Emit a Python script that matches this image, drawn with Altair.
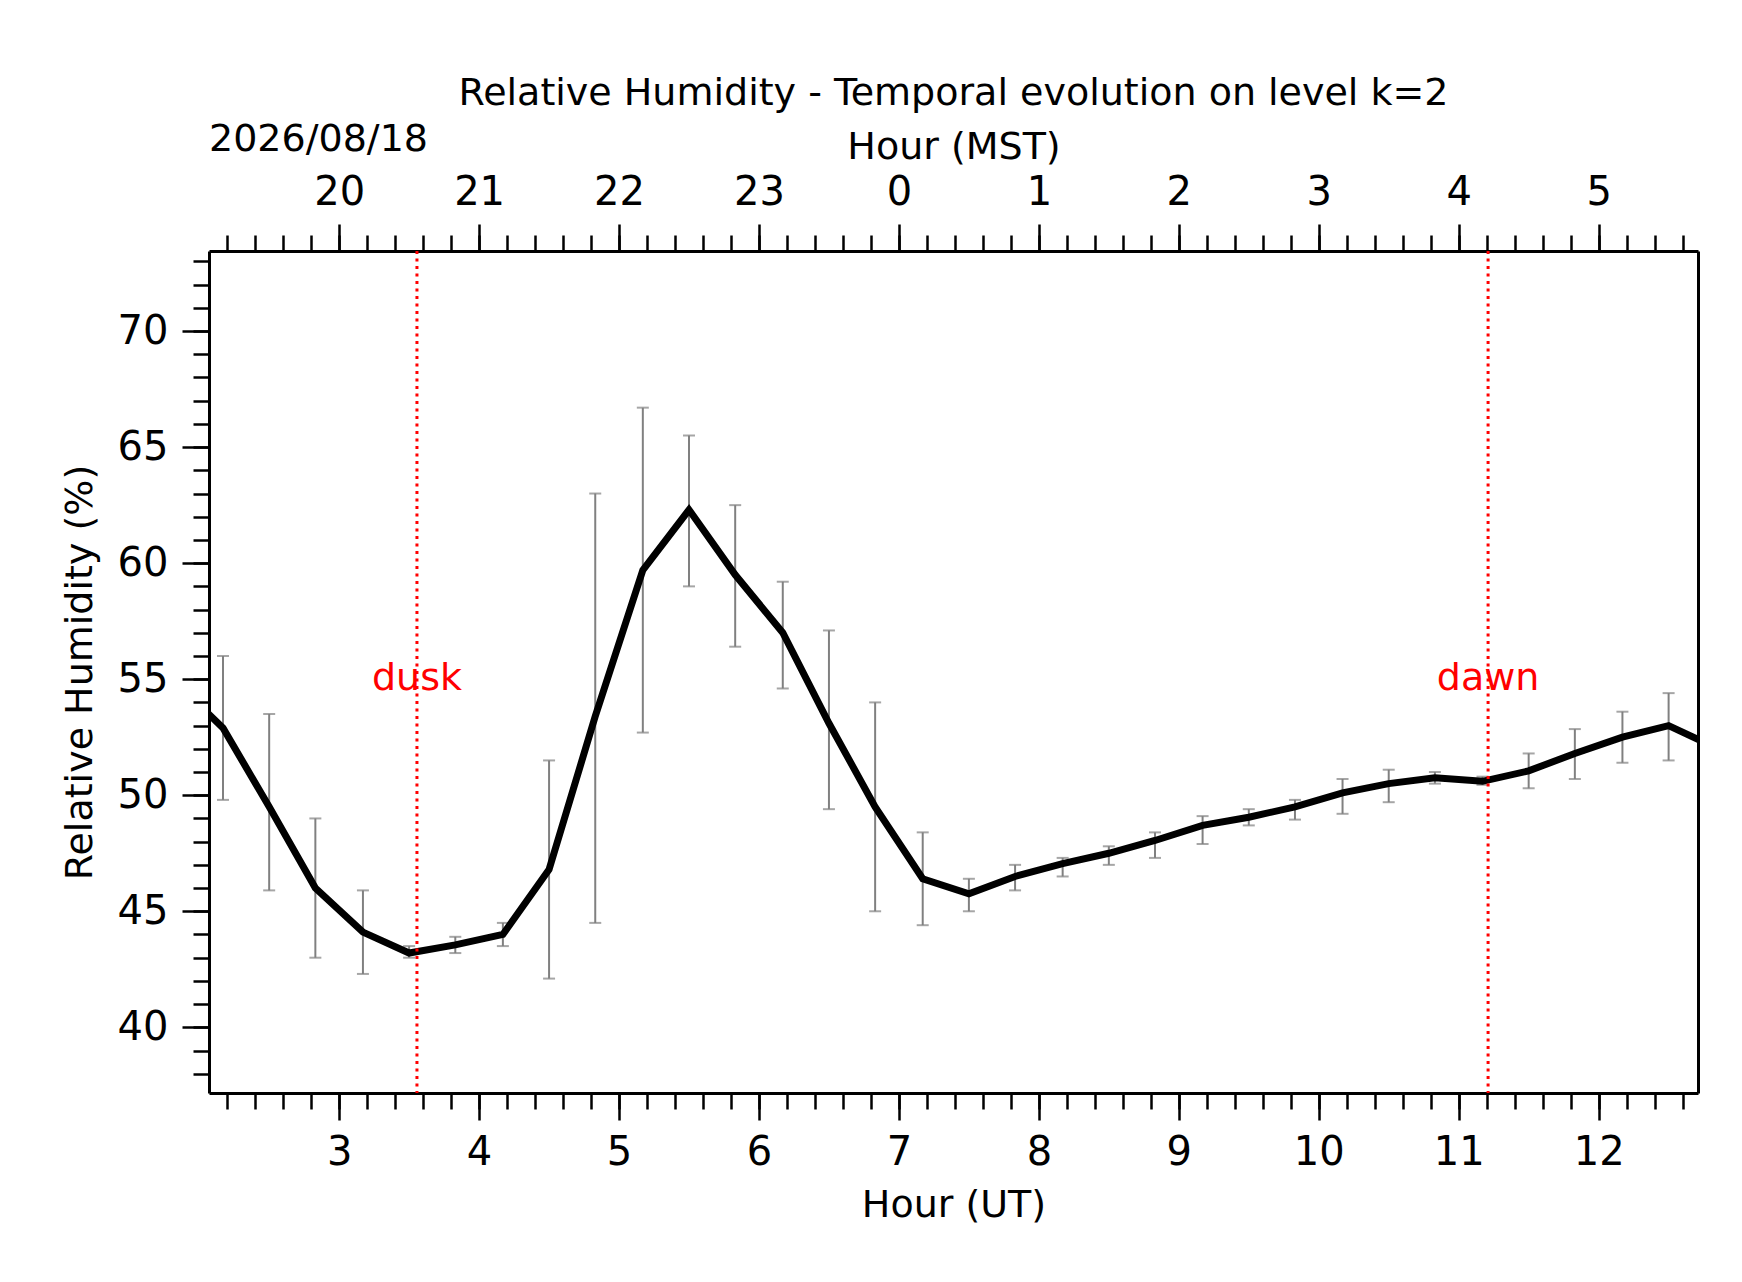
import altair as alt
import pandas as pd

hours_ut = [1.83, 2.17, 2.5, 2.83, 3.17, 3.5, 3.83, 4.17, 4.5, 4.83, 5.17, 5.5, 5.83, 6.17,
            6.5, 6.83, 7.17, 7.5, 7.83, 8.17, 8.5, 8.83, 9.17, 9.5, 9.83, 10.17, 10.5,
            10.83, 11.17, 11.5, 11.83, 12.17, 12.5, 12.83]
humidity = [54.9, 52.9, 49.5, 46.0, 44.1, 43.2, 43.55, 44.0, 46.8, 53.4, 59.7, 62.3, 59.5, 57.0,
            53.1, 49.5, 46.4, 45.75, 46.5, 47.05, 47.5, 48.05, 48.7, 49.05, 49.5, 50.1, 50.5,
            50.75, 50.6, 51.05, 51.8, 52.5, 53.0, 52.06]
err_hi = [None, 56.0, 53.5, 49.0, 45.9, 43.5, 43.9, 44.5, 51.5, 63.0, 66.7, 65.5, 62.5, 59.2,
          57.1, 54.0, 48.4, 46.4, 47.0, 47.3, 47.8, 48.4, 49.1, 49.4, 49.8, 50.7, 51.1,
          51.0, 50.8, 51.8, 52.85, 53.6, 54.4, None]
err_lo = [None, 49.8, 45.9, 43.0, 42.3, 43.0, 43.2, 43.5, 42.1, 44.5, 52.7, 59.0, 56.4, 54.6,
          49.4, 45.0, 44.4, 45.0, 45.9, 46.5, 47.0, 47.3, 47.9, 48.7, 48.95, 49.2, 49.7,
          50.5, 50.45, 50.3, 50.7, 51.4, 51.5, None]
events = ["dusk", "dawn"]
event_hours = [3.556, 11.21]

major_x = list(range(3, 13))
minor_x = [round(2.2 + 0.2 * i, 1) for i in range(53)]
major_y = [40, 45, 50, 55, 60, 65, 70]
minor_y = list(range(38, 74))

df = pd.DataFrame({"ut": hours_ut, "rh": humidity, "hi": err_hi, "lo": err_lo})
err = df.dropna()
ev = pd.DataFrame({"ut": event_hours, "label": events, "y": [55.0, 55.0]})

FONT = "DejaVu Sans"
xs = alt.Scale(domain=[2.07, 12.71], nice=False, zero=False)
ys = alt.Scale(domain=[37.17, 73.45], nice=False, zero=False)

axis_common = dict(labelFont=FONT, titleFont=FONT, labelColor="black", titleColor="black",
                   tickColor="black", domainColor="black", domainWidth=3, grid=False,
                   titleFontWeight="normal")


def ax(orient, values, size, labels=True, domain=False, **kw):
    opts = dict(axis_common, orient=orient, values=values, tickSize=size, tickWidth=2.5,
                domain=domain, labels=labels, labelFontSize=40, labelPadding=12, title=None)
    opts.update(kw)
    return alt.Axis(**opts)


line = alt.Chart(df).mark_line(color="black", strokeWidth=7, clip=True).encode(
    x=alt.X("ut:Q", scale=xs, axis=ax("bottom", major_x, 27, domain=True, title="Hour (UT)",
                                      titleFontSize=38, titlePadding=14)),
    y=alt.Y("rh:Q", scale=ys, axis=ax("left", major_y, 27, domain=True,
                                      title="Relative Humidity (%)",
                                      titleFontSize=38, titlePadding=18, labelPadding=14)),
)

bars = alt.Chart(err).mark_rule(color="gray", strokeWidth=2).encode(
    x=alt.X("ut:Q", scale=xs, axis=ax("bottom", minor_x, 16, labels=False)),
    y=alt.Y("lo:Q", scale=ys, axis=ax("left", minor_y, 16, labels=False)),
    y2="hi:Q",
)

caps_hi = alt.Chart(err).mark_tick(color="gray", orient="horizontal", size=12, thickness=2).encode(
    x=alt.X("ut:Q", scale=xs, axis=ax("top", major_x, 27, domain=True,
                                      labelExpr="(datum.value + 17) % 24",
                                      title="Hour (MST)", titleFontSize=38, titlePadding=6)),
    y=alt.Y("hi:Q", scale=ys, axis=ax("right", [], 0, labels=False, domain=True)),
)
caps_lo = alt.Chart(err).mark_tick(color="gray", orient="horizontal", size=12, thickness=2).encode(
    x=alt.X("ut:Q", scale=xs, axis=None),
    y=alt.Y("lo:Q", scale=ys, axis=None),
)

event_rules = alt.Chart(ev).mark_rule(color="red", strokeWidth=3, strokeDash=[3, 4.5]).encode(
    x=alt.X("ut:Q", scale=xs, axis=ax("top", minor_x, 16, labels=False)),
)
event_text = alt.Chart(ev).mark_text(color="red", font=FONT, fontSize=38, baseline="middle").encode(
    x=alt.X("ut:Q", scale=xs, axis=None),
    y=alt.Y("y:Q", scale=ys, axis=None),
    text="label:N",
)

date_text = alt.Chart(pd.DataFrame({"t": ["2026/08/18"]})).mark_text(
    font=FONT, fontSize=38, align="left", baseline="alphabetic", color="black"
).encode(x=alt.value(0), y=alt.value(-100), text="t:N")

chart = (
    alt.layer(bars, caps_hi, caps_lo, line, event_rules, event_text, date_text)
    .resolve_axis(x="independent", y="independent")
    .properties(
        width=1489,
        height=842,
        autosize=alt.AutoSizeParams(type="none"),
        padding={"left": 201, "top": 243, "right": 30, "bottom": 150},
        title=alt.Title("Relative Humidity - Temporal evolution on level k=2",
                        font=FONT, fontSize=38, fontWeight="normal", color="black",
                        offset=8),
    )
    .configure_view(stroke=None)
    .configure(background="white")
)

chart.save("out.html", embed_options={"renderer": "svg", "actions": False})
